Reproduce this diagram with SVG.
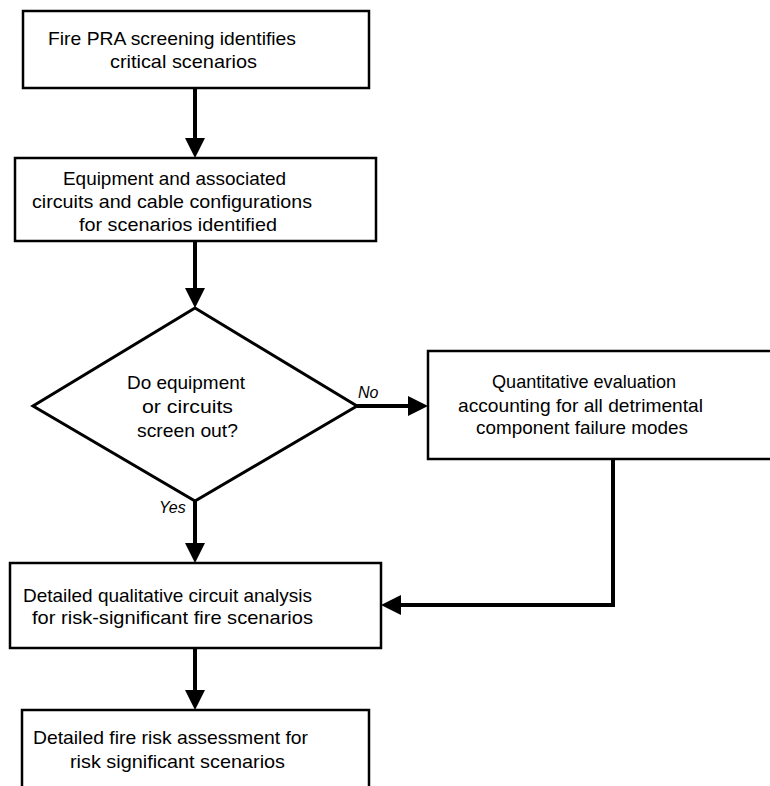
<svg xmlns="http://www.w3.org/2000/svg" width="770" height="786" viewBox="0 0 770 786">
<style>
.box{fill:#fff;stroke:#000;stroke-width:2.5}
.dia{fill:#fff;stroke:#000;stroke-width:3}
.t{font-family:"Liberation Sans",Arial,sans-serif;font-size:19px;fill:#000}
.lbl{font-family:"Liberation Sans",Arial,sans-serif;font-size:16px;font-style:italic;fill:#000}
.c{fill:none;stroke:#000;stroke-width:4}
</style>
<defs>
<marker id="ah" viewBox="0 0 20 20" markerWidth="20" markerHeight="20" markerUnits="userSpaceOnUse" refX="2" refY="10" orient="auto">
<path d="M0,0 L20,10 L0,20 z" fill="#000"/>
</marker>
</defs>
<rect width="770" height="786" fill="#fff"/>
<g id="connectors">
<path class="c" d="M195,88 V140" marker-end="url(#ah)"/>
<path class="c" d="M195,241 V290" marker-end="url(#ah)"/>
<path class="c" d="M357,406 H410" marker-end="url(#ah)"/>
<path class="c" d="M195,501 V545" marker-end="url(#ah)"/>
<path class="c" d="M613,459 V605 H399" marker-end="url(#ah)"/>
<path class="c" d="M195,648 V692" marker-end="url(#ah)"/>
<text class="lbl" x="358" y="398">No</text>
<text class="lbl" x="159" y="513">Yes</text>
</g>
<g id="n1">
<rect class="box" x="23" y="11" width="346" height="77"/>
<text class="t" x="48" y="45" textLength="248" lengthAdjust="spacingAndGlyphs">Fire PRA screening identifies</text>
<text class="t" x="110" y="68" textLength="147" lengthAdjust="spacingAndGlyphs">critical scenarios</text>
</g>
<g id="n2">
<rect class="box" x="15" y="158" width="361" height="83"/>
<text class="t" x="63" y="185" textLength="223" lengthAdjust="spacingAndGlyphs">Equipment and associated</text>
<text class="t" x="32" y="208" textLength="280" lengthAdjust="spacingAndGlyphs">circuits and cable configurations</text>
<text class="t" x="79" y="231" textLength="198" lengthAdjust="spacingAndGlyphs">for scenarios identified</text>
</g>
<g id="n3">
<polygon class="dia" points="195,308 357,406 195,501 33,406"/>
<text class="t" x="127" y="389" textLength="118" lengthAdjust="spacingAndGlyphs">Do equipment</text>
<text class="t" x="142" y="413" textLength="91" lengthAdjust="spacingAndGlyphs">or circuits</text>
<text class="t" x="137" y="437" textLength="101" lengthAdjust="spacingAndGlyphs">screen out?</text>
</g>
<g id="n4">
<rect class="box" x="428" y="351" width="345" height="108"/>
<text class="t" x="492" y="388" textLength="184" lengthAdjust="spacingAndGlyphs">Quantitative evaluation</text>
<text class="t" x="458" y="412" textLength="245" lengthAdjust="spacingAndGlyphs">accounting for all detrimental</text>
<text class="t" x="476" y="434" textLength="212" lengthAdjust="spacingAndGlyphs">component failure modes</text>
</g>
<g id="n5">
<rect class="box" x="10" y="563" width="371" height="85"/>
<text class="t" x="23" y="602" textLength="289" lengthAdjust="spacingAndGlyphs">Detailed qualitative circuit analysis</text>
<text class="t" x="32" y="624" textLength="281" lengthAdjust="spacingAndGlyphs">for risk-significant fire scenarios</text>
</g>
<g id="n6">
<rect class="box" x="22" y="710" width="347" height="100"/>
<text class="t" x="33" y="744" textLength="275" lengthAdjust="spacingAndGlyphs">Detailed fire risk assessment for</text>
<text class="t" x="70" y="768" textLength="215" lengthAdjust="spacingAndGlyphs">risk significant scenarios</text>
</g>
</svg>
